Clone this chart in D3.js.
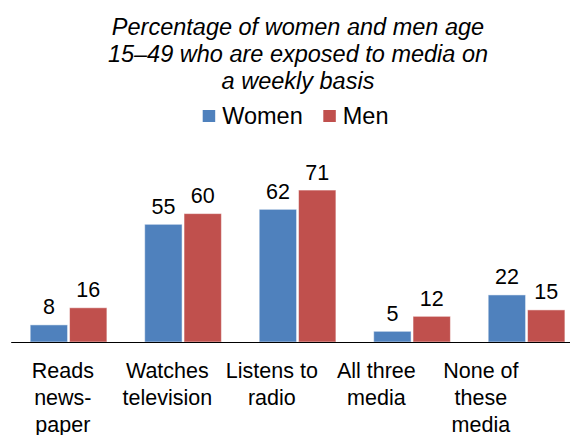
<!DOCTYPE html>
<html>
<head>
<meta charset="utf-8">
<script src="https://cdn.jsdelivr.net/npm/d3@7"></script>
<style>
  html, body { margin: 0; padding: 0; background: #fff; }
  svg { display: block; font-family: "Liberation Sans", Arial, sans-serif; }
</style>
</head>
<body>
<svg id="chart" width="570" height="435"></svg>
<script>
const categories = ["Reads newspaper", "Watches television", "Listens to radio", "All three media", "None of these media"];
const categoryLines = [["Reads", "news-", "paper"], ["Watches", "television"], ["Listens to", "radio"], ["All three", "media"], ["None of", "these", "media"]];
const series = ["Women", "Men"];
const women = [8, 55, 62, 5, 22];
const men = [16, 60, 71, 12, 15];
const colors = ["#4F81BD", "#C0504D"];
const titleLines = ["Percentage of women and men age", "15\u201349 who are exposed to media on", "a weekly basis"];

const values = [women, men];
const svg = d3.select("#chart");
const baseY = 342;

const x = d3.scaleBand().domain(categories).range([11.2, 583.7]).paddingInner(0).paddingOuter(0);
const xInner = d3.scaleBand().domain(series).range([19, 95.7]).paddingInner(0.05).paddingOuter(0);
const xLabel = d3.scaleBand().domain(categories).range([10.6, 533.1]);
const y = d3.scaleLinear().domain([0, 100]).range([baseY, baseY - 214]);

// Title
const title = svg.append("text")
  .attr("text-anchor", "middle")
  .attr("font-size", 23.5)
  .attr("font-style", "italic")
  .attr("fill", "#000");
titleLines.forEach((t, i) => {
  title.append("tspan").attr("x", 298).attr("y", 35 + i * 27).text(t);
});

// Legend
const legend = svg.append("g");
const legendX = [202.7, 323.3];
series.forEach((s, i) => {
  legend.append("rect")
    .attr("x", legendX[i]).attr("y", 110)
    .attr("width", 12.5).attr("height", 12)
    .attr("fill", colors[i]);
  legend.append("text")
    .attr("x", legendX[i] + 19.5).attr("y", 124)
    .attr("font-size", 23.5)
    .attr("fill", "#000")
    .text(s);
});

// Bars
const groups = svg.append("g").selectAll("g")
  .data(categories)
  .join("g")
  .attr("transform", d => `translate(${x(d)},0)`);

series.forEach((s, si) => {
  groups.append("rect")
    .attr("x", xInner(s))
    .attr("width", xInner.bandwidth())
    .attr("y", (d, ci) => y(values[si][ci]))
    .attr("height", (d, ci) => baseY - y(values[si][ci]))
    .attr("fill", colors[si])
    .attr("stroke", "#ffffff")
    .attr("stroke-opacity", 0.5)
    .attr("stroke-width", 1);
  groups.append("text")
    .attr("x", xInner(s) + xInner.bandwidth() / 2)
    .attr("y", (d, ci) => y(values[si][ci]) - 10.5)
    .attr("text-anchor", "middle")
    .attr("font-size", 21.5)
    .attr("fill", "#000")
    .text((d, ci) => values[si][ci]);
});

// Axis line
svg.append("line")
  .attr("x1", x.range()[0]).attr("x2", x.range()[1])
  .attr("y1", baseY + 0.5).attr("y2", baseY + 0.5)
  .attr("stroke", "#000").attr("stroke-width", 1);

// Category labels
const labels = svg.append("g").selectAll("text")
  .data(categories)
  .join("text")
  .attr("text-anchor", "middle")
  .attr("font-size", 21.5)
  .attr("fill", "#000");
labels.each(function(d, i) {
  const t = d3.select(this);
  categoryLines[i].forEach((line, li) => {
    t.append("tspan")
      .attr("x", xLabel(d) + xLabel.bandwidth() / 2)
      .attr("y", 378.3 + li * 26.7)
      .text(line);
  });
});
</script>
</body>
</html>
